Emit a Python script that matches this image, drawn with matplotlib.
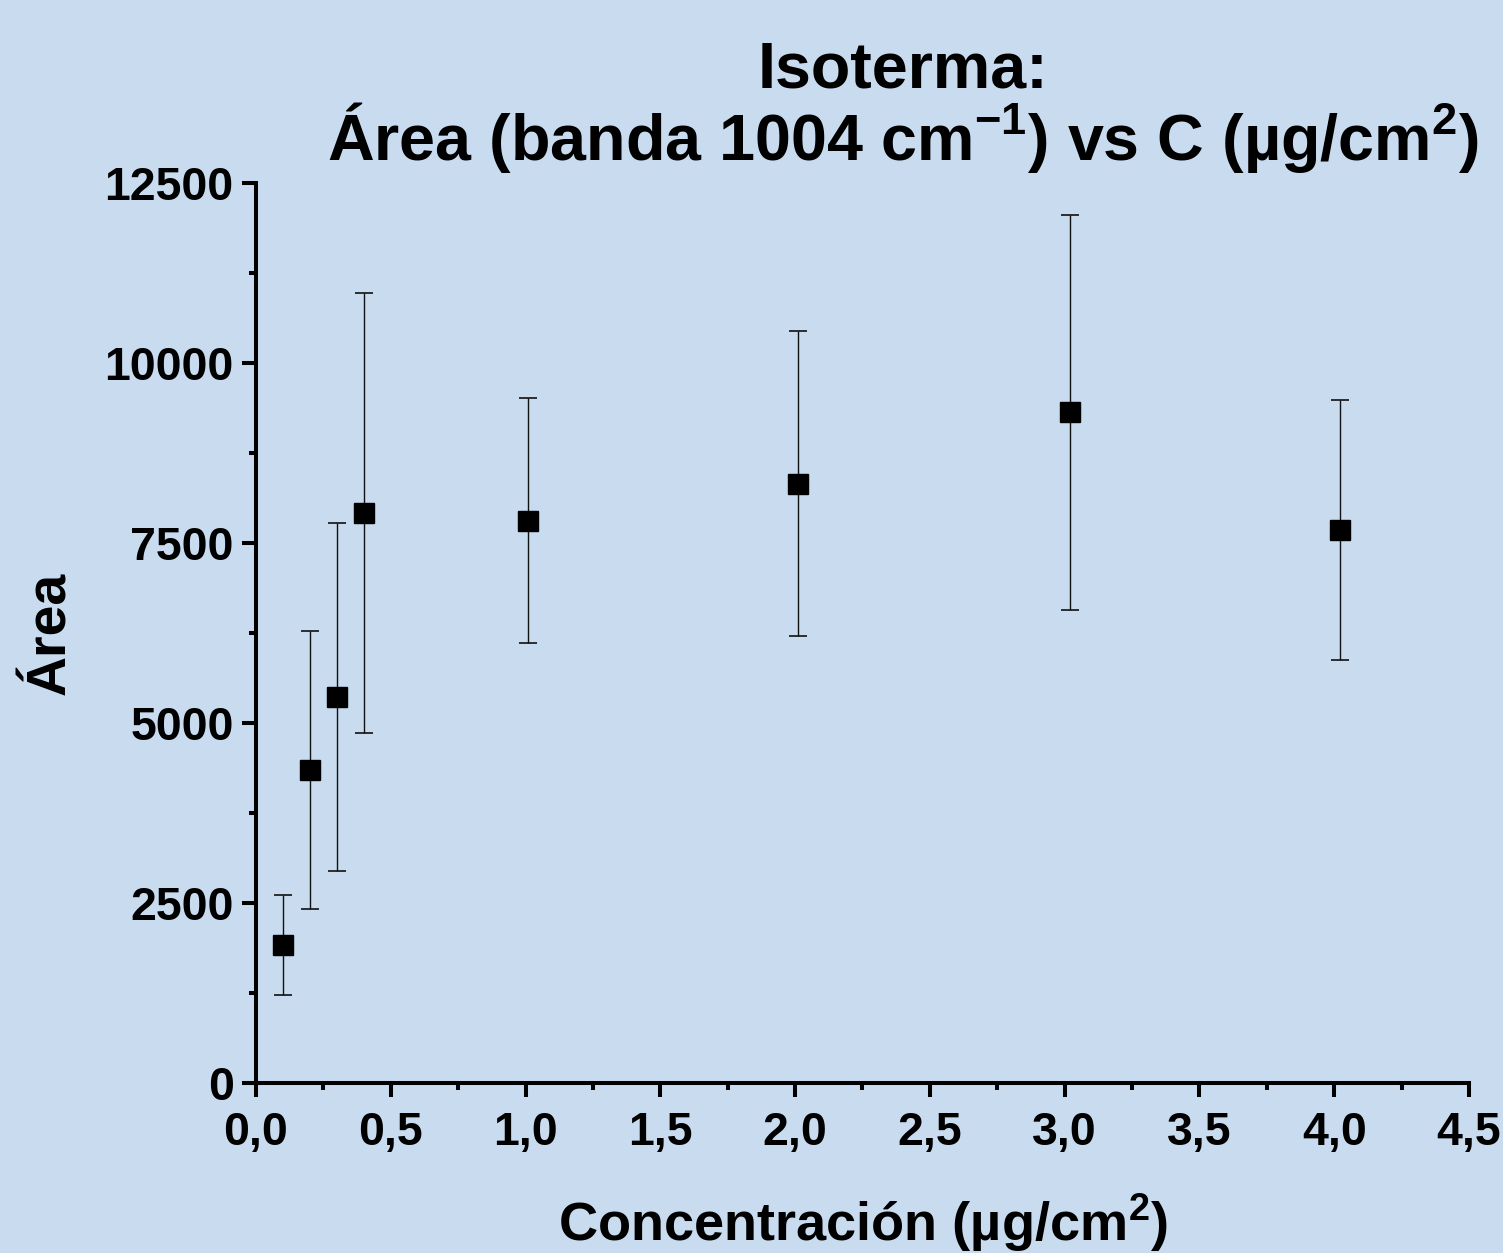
import matplotlib
matplotlib.use("Agg")
import matplotlib.pyplot as plt
from matplotlib.ticker import MultipleLocator

plt.rcParams["font.family"] = ["Liberation Sans", "DejaVu Sans"]
plt.rcParams["font.weight"] = "bold"
plt.rcParams["mathtext.fontset"] = "custom"
plt.rcParams["mathtext.rm"] = "Liberation Sans:bold"
plt.rcParams["mathtext.bf"] = "Liberation Sans:bold"

# data
conc = [0.10, 0.20, 0.30, 0.40, 1.01, 2.01, 3.02, 4.02]
area = [1917, 4347, 5361, 7917, 7810, 8324, 9315, 7681]
area_err = [690, 1935, 2420, 3050, 1705, 2120, 2740, 1800]

x_ticks = [0.0, 0.5, 1.0, 1.5, 2.0, 2.5, 3.0, 3.5, 4.0, 4.5]
x_tick_labels = ["0,0", "0,5", "1,0", "1,5", "2,0", "2,5", "3,0", "3,5", "4,0", "4,5"]
y_ticks = [0, 2500, 5000, 7500, 10000, 12500]

bg = "#c9dcef"

fig = plt.figure(figsize=(15.03, 12.53), dpi=100, facecolor=bg)
ax = fig.add_axes([0.1703, 0.1357, 0.8071, 0.7183])
ax.set_facecolor("none")

ax.errorbar(conc, area, yerr=area_err, fmt="s", color="black",
            markersize=14.5, ecolor="#111111", elinewidth=1.0,
            capsize=6.5, capthick=1.2, zorder=3)

ax.set_xlim(0, 4.5)
ax.set_ylim(0, 12500)
ax.set_xticks(x_ticks)
ax.set_xticklabels(x_tick_labels)
ax.set_yticks(y_ticks)
ax.xaxis.set_minor_locator(MultipleLocator(0.25))
ax.yaxis.set_minor_locator(MultipleLocator(1250))

for side in ["top", "right"]:
    ax.spines[side].set_visible(False)
for side in ["left", "bottom"]:
    ax.spines[side].set_linewidth(2.9)
    ax.spines[side].set_capstyle("projecting")

ax.tick_params(which="major", direction="out", length=10, width=2.9,
               labelsize=33.5)
ax.tick_params(axis="x", which="major", pad=10)
ax.tick_params(axis="y", which="major", pad=6)
ax.tick_params(which="minor", direction="out", length=5, width=2.9)
for lab in ax.get_xticklabels() + ax.get_yticklabels():
    lab.set_fontweight("bold")

ax.set_xlabel("Concentración (µg/cm$^{2}$)", fontsize=39, fontweight="bold",
              labelpad=26)
ax.set_ylabel("Área", fontsize=40, fontweight="bold", labelpad=20)

fig.text(0.601, 0.968, "Isoterma:\nÁrea (banda 1004 cm$^{-1}$) vs C (µg/cm$^{2}$)",
         ha="center", va="top", fontsize=46.5, fontweight="bold",
         linespacing=1.0)

fig.savefig("out.png", dpi=100, facecolor=bg)
